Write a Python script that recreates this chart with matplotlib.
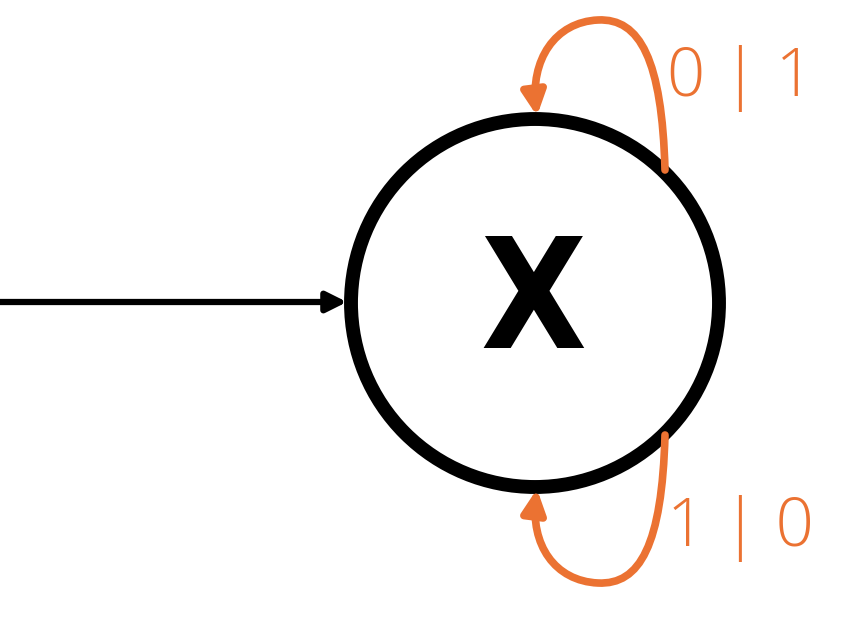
import matplotlib
matplotlib.use("Agg")
import matplotlib.pyplot as plt
from matplotlib.patches import Circle, FancyArrowPatch
from matplotlib.path import Path

state_label = "X"
loop_labels = ["0|1", "1|0"]
orange = "#EB7232"

fig = plt.figure(figsize=(8.66, 6.27), dpi=100)
ax = fig.add_axes([0, 0, 1, 1])
ax.set_xlim(0, 866)
ax.set_ylim(627, 0)
ax.axis("off")

ax.add_patch(Circle((535, 303), 184, fill=False, lw=10, ec="black"))
ax.text(533, 305, state_label, ha="center", va="center", fontsize=110, fontweight="bold",
        family="DejaVu Sans", fontstretch="condensed")

ax.add_patch(FancyArrowPatch((0, 302), (347, 302), arrowstyle="-|>", mutation_scale=30,
                             lw=4.5, color="black", shrinkA=0, shrinkB=0))

top = Path([(665, 170), (662, 60), (640, 18), (598, 20), (555, 22), (530, 60), (537, 116)],
           [Path.MOVETO, Path.CURVE4, Path.CURVE4, Path.CURVE4, Path.CURVE4, Path.CURVE4, Path.CURVE4])
bot = Path([(665, 435), (662, 545), (640, 585), (598, 583), (555, 581), (530, 545), (537, 489)],
           [Path.MOVETO, Path.CURVE4, Path.CURVE4, Path.CURVE4, Path.CURVE4, Path.CURVE4, Path.CURVE4])
for p in (top, bot):
    ax.add_patch(FancyArrowPatch(path=p, arrowstyle="-|>", mutation_scale=35, lw=5.5,
                                 color=orange, shrinkA=0, shrinkB=0))

for y, lab in zip([78, 528], loop_labels):
    ax.text(740, y, lab.replace("|", " | "), ha="center", va="center", fontsize=48, color=orange,
            family="Open Sans", fontweight="light")

fig.savefig("out.png", dpi=100)
